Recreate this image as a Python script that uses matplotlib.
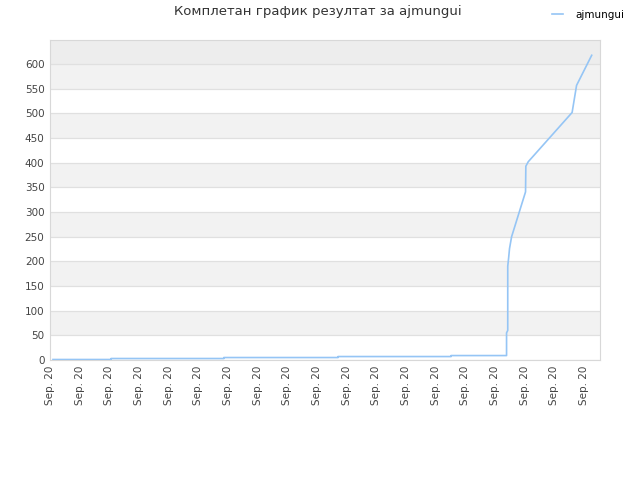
import matplotlib
matplotlib.use('Agg')
import matplotlib.pyplot as plt

# data (x in tick-index units, one tick per label)
tick_labels = ['Sep. 20'] * 19
x_pos = [0.10, 2.06, 2.06, 5.86, 5.86, 9.71, 9.71, 13.52, 13.52, 15.39, 15.39,
         15.43, 15.43, 15.46, 15.49, 15.56, 16.03, 16.04, 16.12, 17.60, 17.75, 18.26]
scores = [1, 1, 3, 3, 5, 5, 7, 7, 9, 9, 55,
          60, 190, 207, 226, 250, 341, 393, 402, 502, 557, 618]
y_ticks = list(range(0, 601, 50))

fig = plt.figure(figsize=(6.4, 4.8), dpi=100)
ax = fig.add_axes([50 / 640, 120 / 480, 550 / 640, 320 / 480])

# alternating bands
for i, lo in enumerate(range(0, 650, 50)):
    if lo == 600:
        ax.axhspan(lo, lo + 50, color='#ededed', lw=0, zorder=0)
    elif i % 2 == 1:
        ax.axhspan(lo, lo + 50, color='#f2f2f2', lw=0, zorder=0)
for y in y_ticks:
    ax.axhline(y, color='#e0e0e0', lw=0.9, zorder=1)

ax.plot(x_pos, scores, color='#95c5f5', lw=1.2, label='ajmungui', zorder=3)

ax.set_xlim(0, 18.54)
ax.set_ylim(0, 649)
ax.set_xticks(range(len(tick_labels)))
ax.set_xticklabels(tick_labels, rotation=90, fontsize=7.5, color='#444444')
ax.set_yticks(y_ticks)
ax.set_yticklabels([str(v) for v in y_ticks], fontsize=7.5, color='#444444')
ax.tick_params(length=0, pad=4)
for s in ax.spines.values():
    s.set_color('#d8d8d8')

fig.text(318 / 640, 1 - 12 / 480, 'Комплетан график резултат за ajmungui',
         ha='center', va='center', fontsize=9.5, color='#333333')
ax.legend(loc='center left', bbox_to_anchor=(552 / 640, 1 - 15 / 480),
          bbox_transform=fig.transFigure, frameon=False, fontsize=7.5,
          handlelength=1.1, handletextpad=1.1, borderpad=0, borderaxespad=0)

fig.savefig('out.png', dpi=100)
